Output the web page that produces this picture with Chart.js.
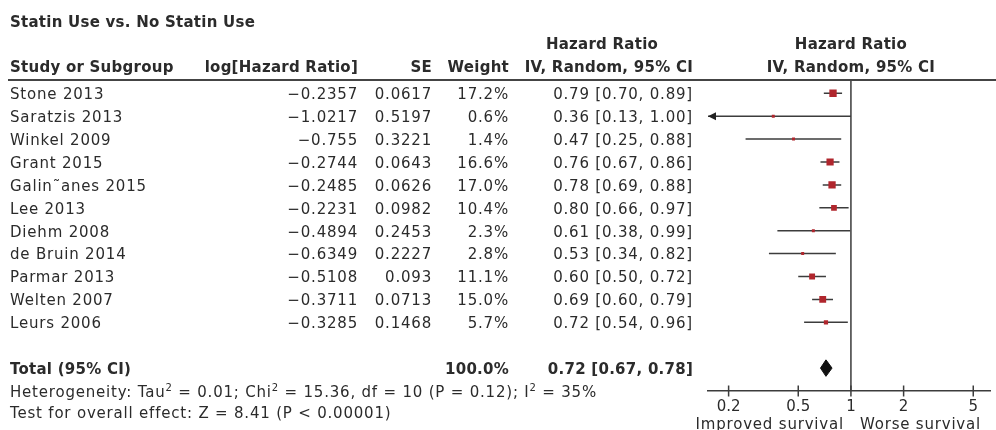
<!DOCTYPE html>
<html>
<head>
<meta charset="utf-8">
<script src="https://cdn.jsdelivr.net/npm/chart.js@4.4.1/dist/chart.umd.min.js"></script>
<style>
  html, body { margin: 0; padding: 0; background: #ffffff; }
  #wrap { width: 996px; height: 430px; }
</style>
</head>
<body>
<div id="wrap"><canvas id="forest" width="996" height="430"></canvas></div>
<script>
// ---- study data ----
const title = 'Statin Use vs. No Statin Use';
const studies = ['Stone 2013', 'Saratzis 2013', 'Winkel 2009', 'Grant 2015', 'Galin\u02DCanes 2015',
  'Lee 2013', 'Diehm 2008', 'de Bruin 2014', 'Parmar 2013', 'Welten 2007', 'Leurs 2006'];
const logHR = [-0.2357, -1.0217, -0.755, -0.2744, -0.2485, -0.2231, -0.4894, -0.6349, -0.5108, -0.3711, -0.3285];
const se = [0.0617, 0.5197, 0.3221, 0.0643, 0.0626, 0.0982, 0.2453, 0.2227, 0.093, 0.0713, 0.1468];
const weight = [17.2, 0.6, 1.4, 16.6, 17.0, 10.4, 2.3, 2.8, 11.1, 15.0, 5.7];
const hr = [0.79, 0.36, 0.47, 0.76, 0.78, 0.80, 0.61, 0.53, 0.60, 0.69, 0.72];
const ciLow = [0.70, 0.13, 0.25, 0.67, 0.69, 0.66, 0.38, 0.34, 0.50, 0.60, 0.54];
const ciHigh = [0.89, 1.00, 0.88, 0.86, 0.88, 0.97, 0.99, 0.82, 0.72, 0.79, 0.96];

// pooled estimate
const totalLabel = 'Total (95% CI)';
const totalWeight = 100.0;
const totalHR = 0.72;
const totalLow = 0.67;
const totalHigh = 0.78;

// heterogeneity and overall effect
const tau2 = 0.01;
const chi2 = 15.36;
const df = 10;
const pHet = 0.12;
const i2 = 35;
const zValue = 8.41;
const pOverall = '< 0.00001';

// axis
const xTicks = [0.2, 0.5, 1, 2, 5];
const favoursLeft = 'Improved survival';
const favoursRight = 'Worse survival';

// ---- layout & style ----
const FONT = '"DejaVu Sans", sans-serif';
const INK = '#2b2b2b';
const LINE = '#3c3c3c';
const SQUARE = '#b0262d';
const FS = 15;
const SPACING = '0.8px';
const SPACING_BOLD = '0.25px';
const TEXT_DY = 2;
const COL = { name: 10, logHR: 358, se: 432, weight: 509, ci: 693, ciHeadCenter: 602 };
const ROW = { title: -3.16, head1: -2.18, head2: -1.2, total: studies.length + 1, het: 13, test: 13.9, favours: 14.42 };
const Y_MIN = -0.58, Y_MAX = 13;

const minus = v => String(v).replace('-', '\u2212');

// confidence-interval segments, broken between studies
const ciPoints = [];
studies.forEach((s, i) => {
  ciPoints.push({ x: ciLow[i], y: i }, { x: ciHigh[i], y: i }, { x: ciHigh[i], y: null });
});

const T = ROW.total;
const diamond = [
  { x: totalLow, y: T }, { x: totalHR, y: T - 0.36 }, { x: totalHigh, y: T },
  { x: totalHR, y: T + 0.36 }, { x: totalLow, y: T }
];

const forestPlugin = {
  id: 'forestTable',
  afterDatasetsDraw(chart) {
    const { ctx, chartArea, scales: { x, y } } = chart;
    ctx.save();
    // tick marks crossing the axis line
    ctx.strokeStyle = LINE;
    ctx.lineWidth = 1.5;
    xTicks.forEach(v => {
      const px = x.getPixelForValue(v);
      ctx.beginPath();
      ctx.moveTo(px, chartArea.bottom - 5.5);
      ctx.lineTo(px, chartArea.bottom + 5.5);
      ctx.stroke();
    });
    // arrows for intervals running past the axis
    ctx.fillStyle = '#222';
    studies.forEach((s, i) => {
      const py = y.getPixelForValue(i);
      if (ciLow[i] < x.min) {
        const px = chartArea.left;
        ctx.beginPath();
        ctx.moveTo(px, py);
        ctx.lineTo(px + 8, py - 4);
        ctx.lineTo(px + 8, py + 4);
        ctx.closePath();
        ctx.fill();
      }
      if (ciHigh[i] > x.max) {
        const px = chartArea.right;
        ctx.beginPath();
        ctx.moveTo(px, py);
        ctx.lineTo(px - 8, py - 4);
        ctx.lineTo(px - 8, py + 4);
        ctx.closePath();
        ctx.fill();
      }
    });
    ctx.restore();
  },
  afterDraw(chart) {
    const { ctx, chartArea, scales: { x, y } } = chart;
    const rowY = r => y.getPixelForValue(r) + TEXT_DY;
    const put = (txt, px, py, align, bold) => {
      ctx.font = (bold ? 'bold ' : '') + FS + 'px ' + FONT;
      ctx.letterSpacing = bold ? SPACING_BOLD : SPACING;
      ctx.textAlign = align;
      ctx.fillText(txt, px, py);
    };
    // runs of text with superscripts
    const putRich = (parts, px, py) => {
      let cx = px;
      ctx.textAlign = 'left';
      ctx.letterSpacing = SPACING;
      parts.forEach(([txt, sup]) => {
        ctx.font = (sup ? 10 : FS) + 'px ' + FONT;
        ctx.fillText(txt, cx, sup ? py - 5 : py);
        cx += ctx.measureText(txt).width;
      });
    };
    ctx.save();
    ctx.fillStyle = INK;
    ctx.textBaseline = 'middle';

    // heading
    put(title, COL.name, rowY(ROW.title), 'left', true);
    put('Hazard Ratio', COL.ciHeadCenter, rowY(ROW.head1), 'center', true);
    const x1 = x.getPixelForValue(1);
    put('Hazard Ratio', x1, rowY(ROW.head1), 'center', true);
    put('Study or Subgroup', COL.name, rowY(ROW.head2), 'left', true);
    put('log[Hazard Ratio]', COL.logHR, rowY(ROW.head2), 'right', true);
    put('SE', COL.se, rowY(ROW.head2), 'right', true);
    put('Weight', COL.weight, rowY(ROW.head2), 'right', true);
    put('IV, Random, 95% CI', COL.ci, rowY(ROW.head2), 'right', true);
    put('IV, Random, 95% CI', x1, rowY(ROW.head2), 'center', true);

    // rule under the header
    ctx.strokeStyle = '#444';
    ctx.lineWidth = 2;
    ctx.beginPath();
    ctx.moveTo(8, chartArea.top);
    ctx.lineTo(996, chartArea.top);
    ctx.stroke();

    // study rows
    studies.forEach((s, i) => {
      const py = rowY(i);
      put(s, COL.name, py, 'left', false);
      put(minus(logHR[i]), COL.logHR, py, 'right', false);
      put(String(se[i]), COL.se, py, 'right', false);
      put(weight[i].toFixed(1) + '%', COL.weight, py, 'right', false);
      put(hr[i].toFixed(2) + ' [' + ciLow[i].toFixed(2) + ', ' + ciHigh[i].toFixed(2) + ']', COL.ci, py, 'right', false);
    });

    // pooled row
    const pt = rowY(ROW.total);
    put(totalLabel, COL.name, pt, 'left', true);
    put(totalWeight.toFixed(1) + '%', COL.weight, pt, 'right', true);
    put(totalHR.toFixed(2) + ' [' + totalLow.toFixed(2) + ', ' + totalHigh.toFixed(2) + ']', COL.ci, pt, 'right', true);

    // heterogeneity / overall effect
    putRich([
      ['Heterogeneity: Tau'], ['2', true], [' = ' + tau2.toFixed(2) + '; Chi'], ['2', true],
      [' = ' + chi2.toFixed(2) + ', df = ' + df + ' (P = ' + pHet.toFixed(2) + '); I'], ['2', true],
      [' = ' + i2 + '%']
    ], COL.name, rowY(ROW.het));
    put('Test for overall effect: Z = ' + zValue.toFixed(2) + ' (P ' + pOverall + ')', COL.name, rowY(ROW.test), 'left', false);

    // favours labels
    put(favoursLeft, x1 - 7, rowY(ROW.favours), 'right', false);
    put(favoursRight, x1 + 9, rowY(ROW.favours), 'left', false);
    ctx.restore();
  }
};

new Chart(document.getElementById('forest'), {
  type: 'scatter',
  data: {
    datasets: [
      {
        label: 'no effect',
        type: 'line',
        data: [{ x: 1, y: Y_MIN }, { x: 1, y: Y_MAX }],
        borderColor: LINE, borderWidth: 1.5, pointRadius: 0, clip: false, order: 4
      },
      {
        label: '95% CI',
        type: 'line',
        data: ciPoints,
        borderColor: LINE, borderWidth: 1.5, pointRadius: 0, spanGaps: false, order: 3
      },
      {
        label: 'Hazard ratio',
        type: 'scatter',
        data: hr.map((v, i) => ({ x: v, y: i })),
        pointStyle: 'rect',
        pointRadius: weight.map(w => Math.max(2.1, 1.25 * Math.sqrt(w))),
        backgroundColor: SQUARE, borderWidth: 0, order: 2
      },
      {
        label: 'Pooled',
        type: 'line',
        data: diamond,
        borderColor: '#111', backgroundColor: '#111', borderWidth: 1,
        fill: 'shape', pointRadius: 0, tension: 0, order: 1
      }
    ]
  },
  options: {
    responsive: false,
    animation: false,
    layout: { padding: { left: 708, right: 0, top: 80, bottom: 12 } },
    plugins: { legend: { display: false }, tooltip: { enabled: false } },
    scales: {
      x: {
        type: 'logarithmic',
        position: 'bottom',
        min: 0.1525,
        max: 6.3,
        afterBuildTicks: s => { s.ticks = xTicks.map(v => ({ value: v })); },
        ticks: {
          callback: v => String(v),
          font: { family: FONT, size: FS },
          color: INK, padding: 2, maxRotation: 0, autoSkip: false
        },
        grid: { display: false, drawTicks: true, tickLength: 5 },
        border: { display: true, color: LINE, width: 1.5 }
      },
      y: { type: 'linear', reverse: true, min: Y_MIN, max: Y_MAX, display: false }
    }
  },
  plugins: [forestPlugin]
});
</script>
</body>
</html>
